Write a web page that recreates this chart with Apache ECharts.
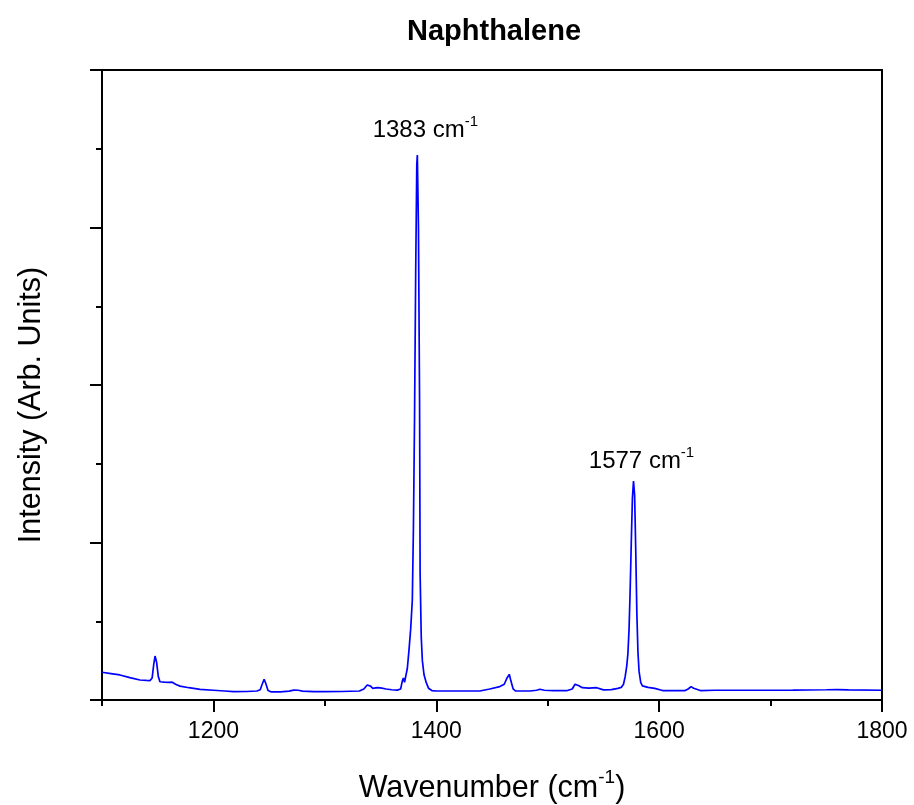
<!DOCTYPE html>
<html>
<head>
<meta charset="utf-8">
<script src="https://cdn.jsdelivr.net/npm/echarts@6/dist/echarts.min.js"></script>
<style>html,body{margin:0;padding:0;background:#fff}#c{width:914px;height:805px}</style>
</head>
<body>
<div id="c"></div>
<script>
const wavenumbers = [1100,1108,1116,1125,1134,1140,1143,1145,1146.5,1147.6,1149,1150.5,1152,1156,1160,1163,1166,1170,1178,1188,1200,1210,1218,1230,1239,1242,1244,1245.5,1247,1249,1252,1260,1268,1272,1276,1280,1290,1300,1315,1331,1335,1338,1339.5,1341,1343,1347,1350,1355,1360,1365,1368,1369.5,1370.5,1371.5,1372.5,1374,1375.5,1377,1378.5,1379.5,1380.5,1381.5,1382.5,1383,1384,1385,1385.5,1386.5,1387.5,1389,1391,1393,1396,1400,1420,1439,1448,1457,1461,1463.5,1465.5,1467,1469,1471,1478,1484,1490,1493,1497,1505,1517,1522,1524.5,1526,1528,1531,1537,1544,1550,1557,1563,1566,1568,1569.5,1571,1572,1573,1574,1575,1576,1577,1578,1579,1580,1581,1582,1583.5,1585,1590,1596,1603,1615,1623,1626,1628.7,1631,1637,1650,1680,1720,1750,1760,1770,1800];
const intensities = [176,168,159,142,127,124,123,140,230,279,240,150,116,113,112,113,100,88,78,68,62,57,53,54,57,65,105,131,105,60,51,52,56,63,62,56,53,53,54,57,70,95,100,88,74,78,77,70,65,63,70,120,140,112,120,200,317,450,635,1100,1800,2700,3400,3460,3000,1900,800,400,250,160,110,75,60,57,57,57,70,85,100,140,163,120,70,58,57,57,62,68,62,59,59,70,100,110,90,78,76,78,64,66,74,80,100,148,220,298,450,700,1000,1280,1390,1300,950,550,300,180,110,90,80,74,60,59,59,70,85,75,60,62,62,63,65,66,64,62];
const majorXTicks = [1200, 1400, 1600, 1800];
const minorXTicks = [1100, 1300, 1500, 1700];
const peakWavenumbers = [1383, 1577];
const peakLabels = ['1383 cm', '1577 cm'];

const FONT = '"Liberation Sans", Arial, sans-serif';
const labelOffsets = [[8, 0], [8, 5]];
const data = wavenumbers.map((w, i) => [w, intensities[i]]);
const markData = peakWavenumbers.map((w, k) => {
  const idx = wavenumbers.indexOf(w);
  return {
    coord: [w, intensities[idx]],
    label: { formatter: '{m|' + peakLabels[k] + '}{s|-1}', offset: labelOffsets[k] }
  };
});

const chart = echarts.init(document.getElementById('c'), null, { renderer: 'canvas' });
chart.setOption({
  animation: false,
  backgroundColor: '#fff',
  title: {
    text: 'Naphthalene', left: 489, top: 12, textAlign: 'center',
    textStyle: { fontFamily: FONT, fontWeight: 'bold', fontSize: 29, color: '#000' }
  },
  grid: { left: 102, right: 32, top: 70, bottom: 105, containLabel: false, outerBoundsMode: 'none' },
  xAxis: [
    {
      type: 'value', min: 1100, max: 1800, position: 'bottom',
      axisLine: { show: true, onZero: false, lineStyle: { color: '#000', width: 2 } },
      axisTick: { show: true, customValues: majorXTicks, length: 12, lineStyle: { color: '#000', width: 2 } },
      axisLabel: { show: true, customValues: majorXTicks, margin: 20, fontFamily: FONT, fontSize: 23, color: '#000',
        formatter: v => String(v) },
      splitLine: { show: false },
      name: '{n|Wavenumber (cm}{s|-1}{n|)}', nameLocation: 'middle', nameGap: 68,
      nameTextStyle: {
        fontFamily: FONT, color: '#000',
        rich: {
          n: { fontFamily: FONT, fontSize: 30.5, color: '#000' },
          s: { fontFamily: FONT, fontSize: 19, color: '#000', padding: [0, 0, 22, 0] }
        }
      }
    },
    {
      type: 'value', min: 1100, max: 1800, position: 'bottom',
      axisLine: { show: false },
      axisTick: { show: true, customValues: minorXTicks, length: 6, lineStyle: { color: '#000', width: 2 } },
      axisLabel: { show: false },
      splitLine: { show: false }
    },
    {
      type: 'value', min: 1100, max: 1800, position: 'top',
      axisLine: { show: true, onZero: false, lineStyle: { color: '#000', width: 2 } },
      axisTick: { show: false }, axisLabel: { show: false }, splitLine: { show: false }
    }
  ],
  yAxis: [
    {
      type: 'value', min: 0, max: 4000, interval: 1000, position: 'left',
      axisLine: { show: true, onZero: false, lineStyle: { color: '#000', width: 2 } },
      axisTick: { show: true, length: 12, lineStyle: { color: '#000', width: 2 } },
      minorTick: { show: true, splitNumber: 2, length: 6, lineStyle: { color: '#000', width: 2 } },
      axisLabel: { show: false },
      splitLine: { show: false }, minorSplitLine: { show: false },
      name: 'Intensity (Arb. Units)', nameLocation: 'middle', nameGap: 55,
      nameTextStyle: { fontFamily: FONT, fontSize: 30.5, color: '#000', padding: [0, 40, 0, 0] }
    },
    {
      type: 'value', min: 0, max: 4000, position: 'right',
      axisLine: { show: true, onZero: false, lineStyle: { color: '#000', width: 2 } },
      axisTick: { show: false }, axisLabel: { show: false }, splitLine: { show: false }
    }
  ],
  series: [{
    type: 'line', xAxisIndex: 0, yAxisIndex: 0, data: data,
    showSymbol: false, symbol: 'none',
    lineStyle: { color: '#0000ff', width: 1.7 },
    markPoint: {
      symbol: 'circle', symbolSize: 1,
      itemStyle: { color: 'rgba(0,0,0,0)' },
      label: {
        show: true, position: 'top', distance: 8,
        rich: {
          m: { fontFamily: FONT, fontSize: 24, color: '#000' },
          s: { fontFamily: FONT, fontSize: 15, color: '#000', padding: [0, 0, 17, 0] }
        }
      },
      data: markData
    }
  }]
});
</script>
</body>
</html>
